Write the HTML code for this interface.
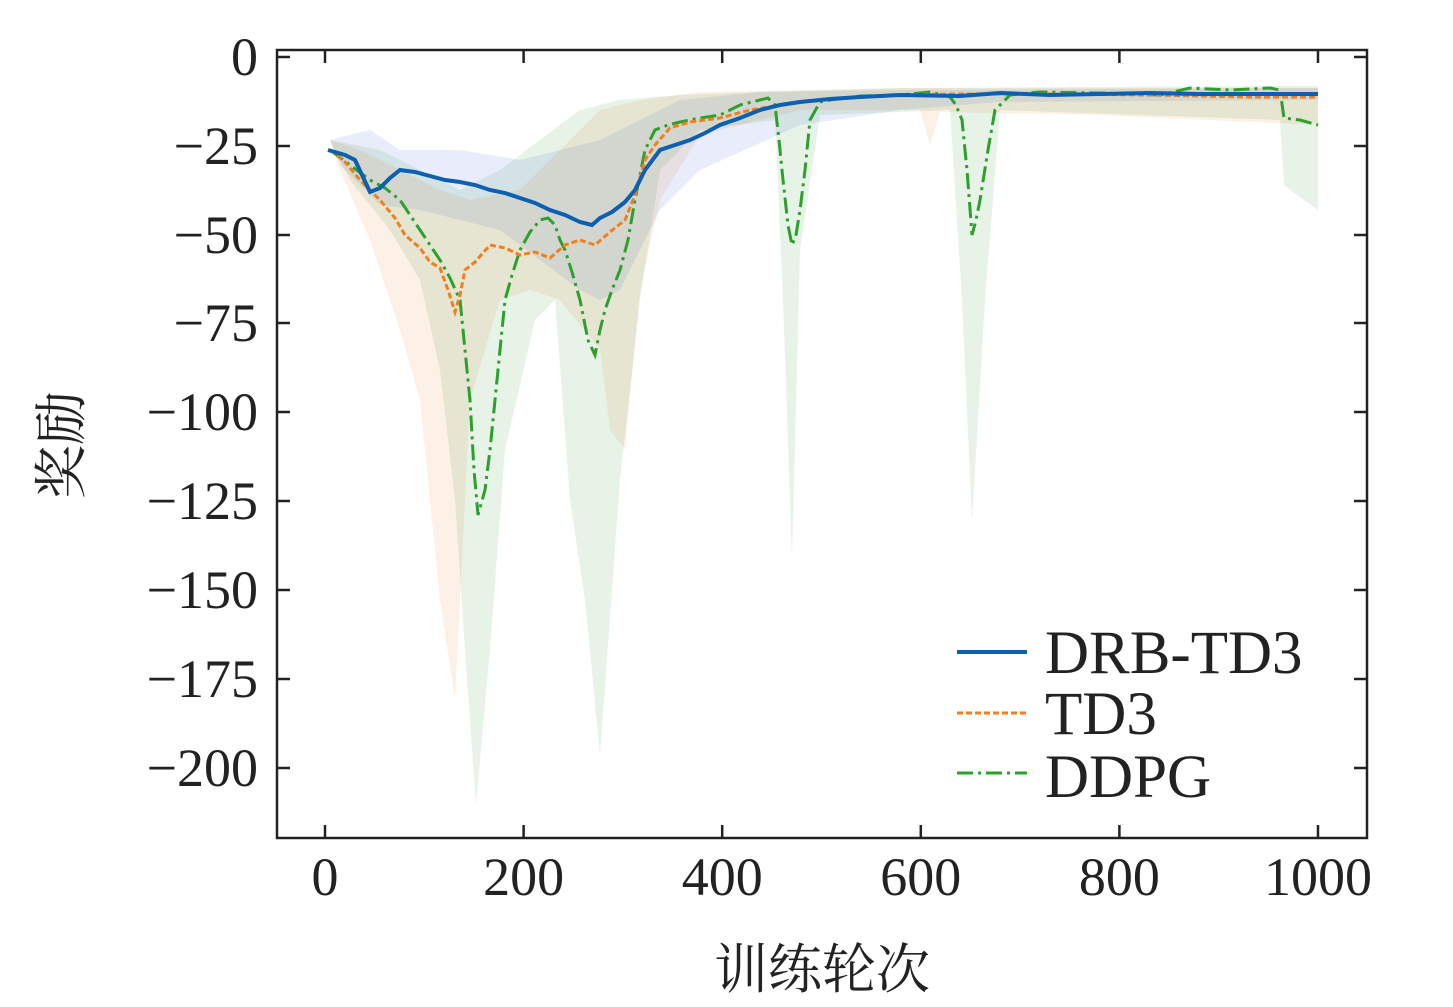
<!DOCTYPE html>
<html><head><meta charset="utf-8"><style>
html,body{margin:0;padding:0;background:#fff}
svg{display:block}
text{font-family:"Liberation Serif","Noto Serif CJK SC",serif;fill:#222}
</style></head><body>
<svg width="1453" height="1007" viewBox="0 0 1453 1007" xmlns="http://www.w3.org/2000/svg">
<defs><clipPath id="c"><rect x="277" y="50" width="1090" height="788"/></clipPath></defs>
<g clip-path="url(#c)">
<polygon fill="#4060e0" fill-opacity="0.12" points="330,140 370,130 400,150 460,150 520,160 560,150 600,140 640,120 680,100 760,92 900,90 1318,88 1318,100 1000,102 900,110 800,125 700,170 660,210 640,250 620,290 600,300 580,290 540,260 500,230 460,220 420,210 380,205 340,165"/>
<polygon fill="#f08030" fill-opacity="0.12" points="330,140 360,150 400,170 440,190 470,200 520,190 560,150 600,110 640,100 700,92 800,90 900,88 1318,88 1318,125 1100,115 940,112 930,145 920,110 800,110 700,135 660,200 640,290 625,450 610,430 600,350 560,300 530,290 500,300 470,400 455,700 440,600 420,400 400,330 370,240 340,170"/>
<polygon fill="#40a040" fill-opacity="0.12" points="330,140 380,150 420,170 460,190 500,170 540,140 580,110 620,100 680,95 760,92 900,88 1280,86 1318,86 1318,210 1290,190 1284,185 1280,120 1000,110 985,300 972,522 962,300 950,110 820,115 800,250 792,557 783,300 775,120 700,130 660,170 640,300 620,480 600,755 585,600 570,500 555,300 535,320 505,450 490,650 476,805 465,650 455,500 440,370 420,280 390,230 350,180"/>
<polyline fill="none" stroke="#2ca02c" stroke-width="3" stroke-dasharray="16,5,3,5" points="330,150 350,165 370,180 385,188 400,200 410,215 420,230 432,248 440,260 450,278 460,300 465,350 470,400 474,470 478,515 485,490 490,450 495,400 500,350 505,300 512,275 520,250 530,232 540,220 548,218 555,225 560,240 565,250 572,272 580,300 588,340 595,355 600,330 605,310 612,290 620,270 628,240 635,200 645,150 655,130 668,125 680,122 700,118 720,115 740,105 760,100 768,98 775,105 779,140 783,180 788,225 792,245 796,235 800,210 805,170 810,120 820,102 830,100 860,96 900,95 930,92 950,97 956,105 962,120 967,170 972,235 976,220 980,200 988,150 995,110 1010,95 1040,92 1100,93 1160,95 1190,88 1230,90 1270,88 1280,90 1284,118 1300,120 1318,125"/>
<polyline fill="none" stroke="#f07f1e" stroke-width="3" stroke-dasharray="6,3" points="330,150 345,162 360,180 380,200 395,218 405,235 420,248 430,262 440,268 448,290 455,312 460,295 465,270 475,262 490,245 505,248 520,255 535,252 550,258 565,245 580,240 595,245 610,232 625,220 635,195 645,160 655,145 670,128 690,122 720,118 750,110 780,105 800,102 820,100 860,97 900,95 960,94 1050,94 1150,95 1250,97 1318,97"/>
<polyline fill="none" stroke="#0d5fb0" stroke-width="4" points="328,150 345,155 355,160 362,175 370,192 380,188 390,178 400,170 415,172 430,176 445,180 460,182 475,185 490,190 505,193 520,198 535,203 550,210 565,215 580,222 592,225 600,218 612,212 625,202 635,190 645,170 660,150 675,145 690,140 705,133 720,125 740,118 760,110 780,105 800,102 830,99 860,97 900,95 960,96 1000,93 1050,95 1100,94 1150,93 1200,94 1318,94"/>
</g>
<rect x="277" y="50" width="1090" height="788" fill="none" stroke="#222" stroke-width="2.5"/>
<g stroke="#222" stroke-width="2.5">
<path d="M325,838v-13M523.6,838v-13M722.2,838v-13M920.8,838v-13M1119.4,838v-13M1318,838v-13M325,50v13M523.6,50v13M722.2,50v13M920.8,50v13M1119.4,50v13M1318,50v13"/>
<path d="M277,57h13M277,146h13M277,235h13M277,323h13M277,412h13M277,501h13M277,590h13M277,679h13M277,768h13M1367,57h-13M1367,146h-13M1367,235h-13M1367,323h-13M1367,412h-13M1367,501h-13M1367,590h-13M1367,679h-13M1367,768h-13"/>
</g>
<g font-size="54" text-anchor="end">
<text x="258" y="75">0</text>
<text x="258" y="164">−25</text>
<text x="258" y="253">−50</text>
<text x="258" y="341">−75</text>
<text x="258" y="430">−100</text>
<text x="258" y="519">−125</text>
<text x="258" y="608">−150</text>
<text x="258" y="697">−175</text>
<text x="258" y="786">−200</text>
</g>
<g font-size="54" text-anchor="middle">
<text x="325" y="895">0</text>
<text x="523.6" y="895">200</text>
<text x="722.2" y="895">400</text>
<text x="920.8" y="895">600</text>
<text x="1119.4" y="895">800</text>
<text x="1318" y="895">1000</text>
</g>
<text x="822" y="988" font-size="54" text-anchor="middle">训练轮次</text>
<text transform="translate(80,445) rotate(-90)" font-size="54" text-anchor="middle">奖励</text>
<line x1="957" y1="652" x2="1027" y2="652" stroke="#0d5fb0" stroke-width="4"/>
<line x1="957" y1="713" x2="1027" y2="713" stroke="#f07f1e" stroke-width="3" stroke-dasharray="6,3"/>
<line x1="957" y1="773" x2="1027" y2="773" stroke="#2ca02c" stroke-width="3" stroke-dasharray="16,5,3,5"/>
<g font-size="61">
<text x="1045" y="673">DRB-TD3</text>
<text x="1045" y="734">TD3</text>
<text x="1045" y="797">DDPG</text>
</g>
</svg>
</body></html>
